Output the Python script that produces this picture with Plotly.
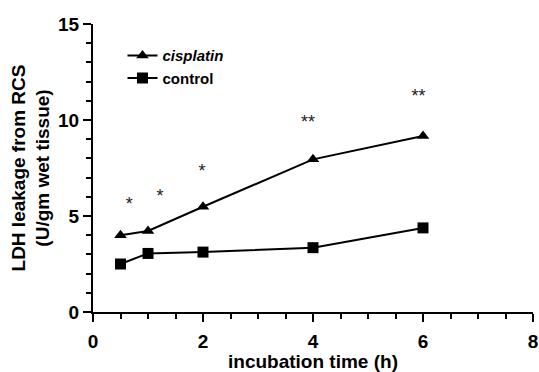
import plotly.graph_objects as go

# Incubation times (h) and LDH leakage (U/gm wet tissue)
time_h = [0.5, 1, 2, 4, 6]
cisplatin = [4.0, 4.22, 5.48, 7.95, 9.17]
control = [2.5, 3.05, 3.12, 3.35, 4.38]

# Significance marks
star_x = [0.66, 1.22, 1.98, 3.91, 5.92]
star_y = [5.55, 5.95, 7.25, 9.8, 11.15]
star_text = ["*", "*", "*", "**", "**"]

FONT = "Liberation Sans, Arial, sans-serif"

fig = go.Figure()
fig.add_trace(go.Scatter(
    x=time_h, y=cisplatin, mode="lines+markers", name="<i>cisplatin</i>",
    line=dict(color="black", width=2),
    marker=dict(symbol="triangle-up", size=11, color="black"),
))
fig.add_trace(go.Scatter(
    x=time_h, y=control, mode="lines+markers", name="control",
    line=dict(color="black", width=2),
    marker=dict(symbol="square", size=11, color="black"),
))
fig.add_trace(go.Scatter(
    x=star_x, y=star_y, mode="text", text=star_text, showlegend=False,
    textfont=dict(family=FONT, size=18, color="#222"), hoverinfo="skip",
))

axis_common = dict(
    showline=True, linecolor="black", linewidth=2, ticks="outside",
    tickwidth=2, ticklen=8, tickcolor="black", showgrid=False, zeroline=False,
    automargin=False, ticklabeloverflow="allow",
    tickfont=dict(family=FONT, size=19, color="black", weight="bold"),
)
fig.update_xaxes(
    range=[0, 8], tickvals=[0, 2, 4, 6, 8], ticklabelstandoff=3,
    minor=dict(dtick=0.5, ticks="outside", ticklen=5, tickwidth=2, tickcolor="black"),
    title=dict(text="incubation time (h)",
               font=dict(family=FONT, size=19, color="black", weight="bold"), standoff=4),
    **axis_common,
)
fig.update_yaxes(
    range=[0, 15], tickvals=[0, 5, 10, 15],
    minor=dict(dtick=1, ticks="outside", ticklen=5, tickwidth=2, tickcolor="black"),
    title=dict(text="LDH leakage from RCS<br>(U/gm wet tissue)",
               font=dict(family=FONT, size=19, color="black", weight="bold"), standoff=3),
    **axis_common,
)
fig.update_layout(
    width=539, height=372,
    margin=dict(l=93, r=6, t=24, b=60),
    plot_bgcolor="white", paper_bgcolor="white",
    showlegend=True,
    legend=dict(x=0.067, y=0.947, xanchor="left", yanchor="top",
                font=dict(family=FONT, size=15, color="black", weight="bold"),
                bgcolor="rgba(0,0,0,0)", tracegroupgap=0),
)

fig.write_html("out.html")
